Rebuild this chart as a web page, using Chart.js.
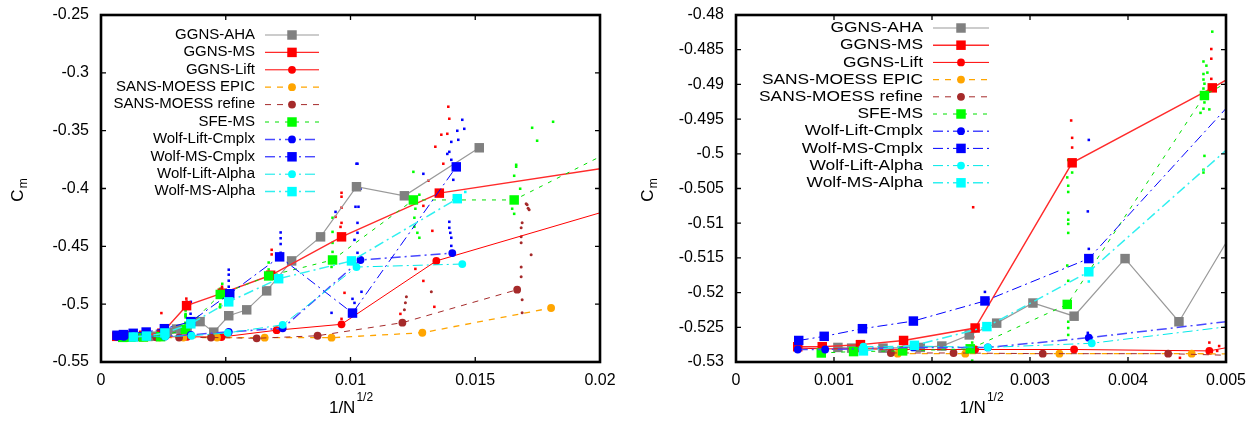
<!DOCTYPE html>
<html>
<head>
<meta charset="utf-8">
<script src="https://cdn.jsdelivr.net/npm/chart.js@4.4.1/dist/chart.umd.min.js"></script>
<style>
  body { margin: 0; background: #fff; }
  #wrap { display: flex; width: 1259px; height: 421px; }
  canvas { display: block; }
</style>
</head>
<body>
<div id="wrap">
  <canvas id="left" width="630" height="421"></canvas>
  <canvas id="right" width="629" height="421"></canvas>
</div>
<script>
// main series, x = 1/N^(1/2), y = Cm
const ahaX = [0.00104, 0.00118, 0.0015, 0.00188, 0.0021, 0.00238, 0.00266, 0.00303, 0.00345, 0.00397, 0.00452, 0.00512, 0.00584, 0.00664, 0.00764, 0.0088, 0.01024, 0.01216, 0.01516];
const ahaY = [-0.5279, -0.528, -0.528, -0.5279, -0.5277, -0.5261, -0.5244, -0.5215, -0.5234, -0.5151, -0.5242, -0.510, -0.5049, -0.4885, -0.4626, -0.4418, -0.3985, -0.4063, -0.3648];

const msX = [0.00063, 0.00088, 0.00127, 0.00171, 0.00244, 0.00343, 0.00486, 0.0068, 0.00964, 0.01356, 0.0275];
const msY = [-0.5278, -0.5278, -0.5275, -0.5269, -0.5251, -0.5013, -0.4905, -0.475, -0.4418, -0.404, -0.3585];

const liftX = [0.00063, 0.00088, 0.00127, 0.00171, 0.00244, 0.00345, 0.00483, 0.00704, 0.00964, 0.01344, 0.0245];
const liftY = [-0.528, -0.5281, -0.5281, -0.5282, -0.5282, -0.5282, -0.5284, -0.5225, -0.5174, -0.4626, -0.3925];

const epicX = [0.00165, 0.00234, 0.0033, 0.00465, 0.00656, 0.00924, 0.01288, 0.01804];
const epicY = [-0.5288, -0.5288, -0.5288, -0.5288, -0.529, -0.529, -0.5247, -0.5033];

const refineX = [0.00158, 0.00222, 0.00313, 0.00441, 0.00624, 0.00868, 0.01208, 0.01668];
const refineY = [-0.5287, -0.5287, -0.5288, -0.5288, -0.5295, -0.5273, -0.516, -0.4875];

const sfeX = [0.00087, 0.0012, 0.0017, 0.00239, 0.00338, 0.00478, 0.00672, 0.00928, 0.01252, 0.01656, 0.024];
const sfeY = [-0.5287, -0.5285, -0.5284, -0.5281, -0.5217, -0.4916, -0.4756, -0.4618, -0.4099, -0.4099, -0.329];

const wlcX = [0.00063, 0.00091, 0.00181, 0.00257, 0.0036, 0.00512, 0.00728, 0.0104, 0.01408];
const wlcY = [-0.5282, -0.5282, -0.5279, -0.5279, -0.5265, -0.524, -0.5208, -0.4618, -0.4558];

const wmcX = [0.00064, 0.0009, 0.00129, 0.00181, 0.00254, 0.0036, 0.00516, 0.00716, 0.01008, 0.01424];
const wmcY = [-0.5269, -0.5263, -0.5252, -0.5241, -0.5212, -0.5151, -0.491, -0.4591, -0.5077, -0.3813];

const wlaX = [0.0013, 0.00181, 0.00257, 0.00363, 0.00508, 0.00728, 0.01024, 0.01448];
const wlaY = [-0.5278, -0.5277, -0.5279, -0.5273, -0.5248, -0.5179, -0.4679, -0.4653];

const wmaX = [0.0013, 0.00182, 0.00256, 0.0036, 0.00512, 0.00712, 0.01004, 0.01428];
const wmaY = [-0.5284, -0.5276, -0.5249, -0.517, -0.498, -0.478, -0.4626, -0.4088];

// scattered intermediate values (small dots)
const redDots = [[0.00342,-0.4952],[0.00343,-0.4977],[0.00343,-0.4991],[0.00485,-0.4849],[0.00485,-0.4863],[0.00485,-0.4892],[0.00242,-0.5077],[0.00242,-0.5264],[0.00483,-0.5272],[0.00493,-0.5277],[0.00491,-0.5284],[0.00453,-0.5294],[0.00684,-0.453],[0.00684,-0.457],
  [0.01392,-0.3293],[0.01396,-0.3397],[0.01388,-0.3527],[0.01364,-0.3535],[0.0134,-0.3639],[0.01372,-0.3786],[0.01312,-0.3933],[0.01292,-0.415],[0.00964,-0.4037],[0.00964,-0.4071],[0.00964,-0.4166],[0.0094,-0.4245],[0.00964,-0.4297],[0.0096,-0.4332],[0.01328,-0.4366],[0.0126,-0.4695],[0.01292,-0.4799],[0.01336,-0.5023],[0.012,-0.5084],[0.00976,-0.4902],[0.00964,-0.5127]];
const blueDots = [[0.01448,-0.3406],[0.01456,-0.3484],[0.01428,-0.3501],[0.01432,-0.3579],[0.01404,-0.3597],[0.01388,-0.3701],[0.01396,-0.3683],[0.01404,-0.3752],[0.01292,-0.3873],[0.01024,-0.3786],[0.01028,-0.3786],[0.01016,-0.4011],[0.0104,-0.4002],[0.0102,-0.4158],[0.01032,-0.4158],[0.01412,-0.3925],[0.0094,-0.4202],[0.01028,-0.4297],[0.01028,-0.4383],[0.01016,-0.4444],[0.01028,-0.4556],[0.00924,-0.5075],[0.01044,-0.4893],[0.01008,-0.4954],[0.01016,-0.4989],[0.01396,-0.4288],[0.01396,-0.434],[0.014,-0.4383],[0.01404,-0.4426],[0.01404,-0.4496],
  [0.0072,-0.438],[0.0072,-0.443],[0.0072,-0.448],[0.0072,-0.4556],[0.00512,-0.4702],[0.00512,-0.4745],[0.00512,-0.4797],[0.00512,-0.4849],[0.0036,-0.498],[0.00359,-0.5083],[0.0036,-0.5137],[0.00254,-0.5199],[0.00359,-0.5258]];
const greenDots = [[0.01728,-0.3475],[0.01812,-0.3423],[0.01748,-0.3587],[0.01664,-0.3795],[0.01664,-0.3812],[0.01656,-0.389],[0.0168,-0.4002],[0.01252,-0.3856],[0.01276,-0.4054],[0.0126,-0.4175],[0.00928,-0.4253],[0.00928,-0.4375],[0.00928,-0.447],[0.00928,-0.4548],[0.00924,-0.4678],[0.01256,-0.4253],[0.01256,-0.4331],[0.01268,-0.4383],[0.01276,-0.4426],[0.01648,-0.4175],[0.01656,-0.4219],[0.00672,-0.464],[0.00672,-0.47],
  [0.00486,-0.4824],[0.00477,-0.4867],[0.0048,-0.4873],[0.00481,-0.4883],[0.00477,-0.4885],[0.00477,-0.4893],[0.00478,-0.4899],[0.00477,-0.4906],[0.00478,-0.4926],[0.00477,-0.4935],[0.00483,-0.4936],[0.00474,-0.4941],[0.00339,-0.5009],[0.00343,-0.5027],[0.00338,-0.5034],[0.00339,-0.5046],[0.00339,-0.5055],[0.00478,-0.5003],[0.00477,-0.5023],[0.00477,-0.5027],[0.00339,-0.5085],[0.00339,-0.5095],[0.00339,-0.5101],[0.00339,-0.5114],[0.00338,-0.5161],[0.00339,-0.5183],[0.00339,-0.5242],[0.00339,-0.5251],[0.00339,-0.5261],[0.00241,-0.5272],[0.00241,-0.5285],[0.00241,-0.5298]];
const brownDots = [[0.01708,-0.4141],[0.01716,-0.4184],[0.01688,-0.4297],[0.01684,-0.434],[0.01684,-0.4417],[0.01684,-0.447],[0.01724,-0.4573],[0.01684,-0.4678],[0.01684,-0.4763],[0.01688,-0.4962],[0.01688,-0.5075],[0.01224,-0.4936],[0.0122,-0.4988],[0.01216,-0.5049],[0.01324,-0.4893],[0.01704,-0.4132],[0.01712,-0.417]];
const cyanDots = [[0.0146,-0.403],[0.0036,-0.5184]];

// tick labels
const leftXTicks = ['0', '0.005', '0.01', '0.015', '0.02'];
const rightXTicks = ['0', '0.001', '0.002', '0.003', '0.004', '0.005'];
const leftYTicks = ['-0.55', '-0.5', '-0.45', '-0.4', '-0.35', '-0.3', '-0.25'];
const rightYTicks = ['-0.53', '-0.525', '-0.52', '-0.515', '-0.51', '-0.505', '-0.5', '-0.495', '-0.49', '-0.485', '-0.48'];

const FONT = "'Liberation Sans', Arial, sans-serif";

const series = [
  { label: 'GGNS-AHA', x: ahaX, y: ahaY, fill: '#808080', line: '#999999', width: 1.2, dash: [], shape: 'rect' },
  { label: 'GGNS-MS', x: msX, y: msY, fill: '#ff0000', line: '#ff2a2a', width: 1.4, dash: [], shape: 'rect' },
  { label: 'GGNS-Lift', x: liftX, y: liftY, fill: '#ff0000', line: '#ff0000', width: 1, dash: [], shape: 'circle' },
  { label: 'SANS-MOESS EPIC', x: epicX, y: epicY, fill: '#ffa500', line: '#ffa500', width: 1.3, dash: [6, 6], shape: 'circle' },
  { label: 'SANS-MOESS refine', x: refineX, y: refineY, fill: '#a52a2a', line: '#a52a2a', width: 1, dash: [6, 6], shape: 'circle' },
  { label: 'SFE-MS', x: sfeX, y: sfeY, fill: '#00ff00', line: '#00e000', width: 1, dash: [4, 6], shape: 'rect' },
  { label: 'Wolf-Lift-Cmplx', x: wlcX, y: wlcY, fill: '#0000ff', line: '#4848ff', width: 1.5, dash: [10, 4, 2, 4], shape: 'circle' },
  { label: 'Wolf-MS-Cmplx', x: wmcX, y: wmcY, fill: '#0000ff', line: '#0000ff', width: 1, dash: [10, 4, 2, 4], shape: 'rect' },
  { label: 'Wolf-Lift-Alpha', x: wlaX, y: wlaY, fill: '#00ffff', line: '#00e8e8', width: 1, dash: [10, 4, 2, 4], shape: 'circle' },
  { label: 'Wolf-MS-Alpha', x: wmaX, y: wmaY, fill: '#00ffff', line: '#30f0f0', width: 1.5, dash: [10, 4, 2, 4], shape: 'rect' }
];

const dots = [
  { pts: redDots, color: '#ff0000', shape: 'rect' },
  { pts: blueDots, color: '#0000ff', shape: 'rect' },
  { pts: greenDots, color: '#00ff00', shape: 'rect' },
  { pts: brownDots, color: '#a52a2a', shape: 'circle' },
  { pts: cyanDots, color: '#00ffff', shape: 'rect' }
];

function pts(xs, ys) { return xs.map((x, i) => ({ x: x, y: ys[i] })); }
function pairs(list) { return list.map(p => ({ x: p[0], y: p[1] })); }
const SQ = 6.7, CI = 3.9;

function marker(ctx, shape, color, x, y) {
  ctx.fillStyle = color;
  ctx.beginPath();
  if (shape === 'rect') {
    const h = SQ * Math.SQRT1_2;
    ctx.rect(x - h, y - h, 2 * h, 2 * h);
  } else {
    ctx.arc(x, y, CI, 0, Math.PI * 2);
  }
  ctx.fill();
}

// frame with inward ticks on all four sides
const framePlugin = {
  id: 'frame',
  afterDatasetsDraw(chart) {
    const { ctx, chartArea: a, scales: { x, y } } = chart;
    ctx.save();
    ctx.strokeStyle = '#000';
    ctx.lineWidth = 1.3;
    ctx.beginPath();
    x.ticks.forEach(t => {
      const p = x.getPixelForValue(t.value);
      ctx.moveTo(p, a.bottom); ctx.lineTo(p, a.bottom - 5);
      ctx.moveTo(p, a.top); ctx.lineTo(p, a.top + 5);
    });
    y.ticks.forEach(t => {
      const p = y.getPixelForValue(t.value);
      ctx.moveTo(a.left, p); ctx.lineTo(a.left + 5, p);
      ctx.moveTo(a.right, p); ctx.lineTo(a.right - 5, p);
    });
    ctx.stroke();
    ctx.lineWidth = 2.6;
    ctx.strokeRect(a.left, a.top, a.right - a.left, a.bottom - a.top);
    ctx.restore();
  }
};

// gnuplot-like key: right aligned text, then line sample with marker
const keyPlugin = {
  id: 'key',
  afterDraw(chart, args, o) {
    const ctx = chart.ctx;
    ctx.save();
    ctx.font = o.size + 'px ' + FONT;
    ctx.textBaseline = 'middle';
    ctx.textAlign = 'right';
    series.forEach((s, i) => {
      const y = o.top + i * o.gap;
      ctx.save();
      ctx.translate(o.textRight, y);
      ctx.scale(o.stretch, 1);
      ctx.fillStyle = '#000';
      ctx.fillText(s.label, 0, 0);
      ctx.restore();
      ctx.strokeStyle = s.line;
      ctx.lineWidth = s.width;
      ctx.setLineDash(s.dash);
      ctx.beginPath();
      ctx.moveTo(o.lineFrom, y);
      ctx.lineTo(o.lineTo, y);
      ctx.stroke();
      ctx.setLineDash([]);
      marker(ctx, s.shape, s.fill, (o.lineFrom + o.lineTo) / 2, y);
    });
    ctx.restore();
  }
};

// axis titles with sub/superscripts
const titlePlugin = {
  id: 'titles',
  afterDraw(chart) {
    const { ctx, chartArea: a } = chart;
    ctx.save();
    ctx.fillStyle = '#000';
    // y title: C with subscript m
    ctx.translate(17, (a.top + a.bottom) / 2 + 2);
    ctx.rotate(-Math.PI / 2);
    ctx.textBaseline = 'alphabetic';
    ctx.font = '17px ' + FONT;
    const wc = ctx.measureText('C').width;
    ctx.font = '12px ' + FONT;
    const wm = ctx.measureText('m').width;
    const x0 = -(wc + wm) / 2;
    ctx.font = '17px ' + FONT;
    ctx.fillText('C', x0, 6);
    ctx.font = '12px ' + FONT;
    ctx.fillText('m', x0 + wc + 1, 10);
    ctx.restore();

    ctx.save();
    ctx.fillStyle = '#000';
    ctx.font = '17px ' + FONT;
    const w1 = ctx.measureText('1/N').width;
    ctx.font = '12px ' + FONT;
    const w2 = ctx.measureText('1/2').width;
    const cx = (a.left + a.right) / 2;
    const sx = cx - (w1 + w2) / 2;
    ctx.font = '17px ' + FONT;
    ctx.fillText('1/N', sx, 413);
    ctx.font = '12px ' + FONT;
    ctx.fillText('1/2', sx + w1 + 1, 401);
    ctx.restore();
  }
};

function build(id, cfg) {
  const datasets = [];
  dots.forEach(d => datasets.push({
    label: '', data: pairs(d.pts), showLine: false,
    pointStyle: d.shape, pointRadius: d.shape === 'rect' ? 1.8 : 1.5,
    pointBackgroundColor: d.color, pointBorderWidth: 0, order: 200
  }));
  series.forEach((s, i) => datasets.push({
    label: s.label, data: pts(s.x, s.y), showLine: true,
    borderColor: s.line, borderWidth: s.width, borderDash: s.dash,
    pointStyle: s.shape, pointRadius: s.shape === 'rect' ? SQ : CI,
    pointBackgroundColor: s.fill, pointBorderWidth: 0, order: 100 - i
  }));
  const xTicks = cfg.xTicks.map(Number), yTicks = cfg.yTicks.map(Number);
  const fmt = (labels, nums) => v => {
    const k = nums.findIndex(n => Math.abs(n - v) < 1e-9);
    return k >= 0 ? labels[k] : '';
  };
  return new Chart(document.getElementById(id), {
    type: 'scatter',
    data: { datasets },
    options: {
      responsive: false, animation: false, devicePixelRatio: 1,
      layout: { padding: { top: 15, right: cfg.padRight, left: 0, bottom: 0 } },
      plugins: { legend: { display: false }, tooltip: { enabled: false }, key: cfg.key },
      scales: {
        x: {
          type: 'linear', min: xTicks[0], max: xTicks[xTicks.length - 1],
          grid: { display: false, drawTicks: false }, border: { display: false },
          ticks: { stepSize: xTicks[1] - xTicks[0], padding: 9, color: '#000', maxRotation: 0, autoSkip: false,
                   font: { family: FONT, size: 16 }, callback: fmt(cfg.xTicks, xTicks) },
          afterFit: s => { s.height = 59; s.paddingLeft = 0; s.paddingRight = 0; }
        },
        y: {
          type: 'linear', min: yTicks[0], max: yTicks[yTicks.length - 1],
          grid: { display: false, drawTicks: false }, border: { display: false },
          ticks: { stepSize: yTicks[1] - yTicks[0], padding: 12, color: '#000', autoSkip: false,
                   font: { family: FONT, size: 16 }, callback: fmt(cfg.yTicks, yTicks) },
          afterFit: s => { s.width = cfg.areaLeft; s.paddingTop = 0; s.paddingBottom = 0; }
        }
      }
    },
    plugins: [framePlugin, keyPlugin, titlePlugin]
  });
}

build('left', {
  xTicks: leftXTicks, yTicks: leftYTicks, areaLeft: 101, padRight: 30,
  key: { textRight: 255, top: 35, gap: 17.4, lineFrom: 265, lineTo: 319, size: 14, stretch: 1.07 }
});
build('right', {
  xTicks: rightXTicks, yTicks: rightYTicks, areaLeft: 106, padRight: 33,
  key: { textRight: 293, top: 28, gap: 17.2, lineFrom: 303, lineTo: 359, size: 15.5, stretch: 1.12 }
});
</script>
</body>
</html>
